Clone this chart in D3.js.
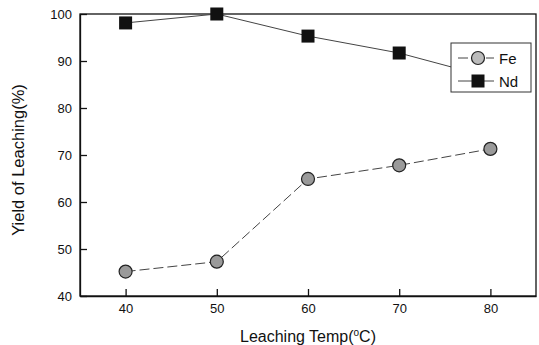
<!DOCTYPE html>
<html>
<head>
<meta charset="utf-8">
<script src="https://cdn.jsdelivr.net/npm/d3@7"></script>
<style>
  body { margin: 0; background: #fff; }
  text { font-family: "Liberation Sans", Arial, sans-serif; fill: #111; }
</style>
</head>
<body>
<div id="chart"></div>
<script>
const temps = [40, 50, 60, 70, 80];
const feYield = [45.2, 47.3, 64.9, 67.8, 71.3];
const ndYield = [98.1, 100, 95.3, 91.7, 86.5];
const xTicks = [40, 50, 60, 70, 80];
const yTicks = [40, 50, 60, 70, 80, 90, 100];

const W = 539;
const H = 345;
const margin = { left: 80, top: 14, right: 3, bottom: 49 };

const svg = d3
  .select("#chart")
  .append("svg")
  .attr("width", W)
  .attr("height", H);

const x = d3.scaleLinear().domain([35, 85]).range([margin.left, W - margin.right]);
const y = d3.scaleLinear().domain([40, 100]).range([H - margin.bottom, margin.top]);

// frame
svg
  .append("rect")
  .attr("x", x(35))
  .attr("y", y(100))
  .attr("width", x(85) - x(35))
  .attr("height", y(40) - y(100))
  .attr("fill", "none")
  .attr("stroke", "#111")
  .attr("stroke-width", 1.3);

// axes (ticks inward)
const xAxis = svg
  .append("g")
  .attr("transform", "translate(0," + y(40) + ")")
  .call(d3.axisBottom(x).tickValues(xTicks).tickSizeInner(-7).tickSizeOuter(0).tickPadding(8));
const yAxis = svg
  .append("g")
  .attr("transform", "translate(" + x(35) + ",0)")
  .call(d3.axisLeft(y).tickValues(yTicks).tickSizeInner(-7).tickSizeOuter(0).tickPadding(8));

[xAxis, yAxis].forEach(function(g) {
  g.select(".domain").attr("stroke", "#111").attr("stroke-width", 1.3);
  g.selectAll(".tick line").attr("stroke", "#111").attr("stroke-width", 1.3);
  g.selectAll(".tick text").attr("font-size", "13px").attr("fill", "#111");
});

// lines
const line = d3
  .line()
  .x(function(d, i) { return x(temps[i]); })
  .y(function(d) { return y(d); });

svg
  .append("path")
  .datum(ndYield)
  .attr("d", line)
  .attr("fill", "none")
  .attr("stroke", "#444")
  .attr("stroke-width", 1);

svg
  .append("path")
  .datum(feYield)
  .attr("d", line)
  .attr("fill", "none")
  .attr("stroke", "#444")
  .attr("stroke-width", 1)
  .attr("stroke-dasharray", "10,4");

// markers
svg
  .selectAll("rect.nd")
  .data(ndYield)
  .enter()
  .append("rect")
  .attr("class", "nd")
  .attr("x", function(d, i) { return x(temps[i]) - 6.5; })
  .attr("y", function(d) { return y(d) - 6.5; })
  .attr("width", 13)
  .attr("height", 13)
  .attr("fill", "#111");

svg
  .selectAll("circle.fe")
  .data(feYield)
  .enter()
  .append("circle")
  .attr("class", "fe")
  .attr("cx", function(d, i) { return x(temps[i]); })
  .attr("cy", function(d) { return y(d); })
  .attr("r", 6.5)
  .attr("fill", "#9a9a9a")
  .attr("stroke", "#222")
  .attr("stroke-width", 1.2);

// legend
const lg = svg.append("g").attr("transform", "translate(451,43)");
lg.append("rect")
  .attr("width", 80)
  .attr("height", 49)
  .attr("fill", "#fff")
  .attr("stroke", "#333")
  .attr("stroke-width", 1);

lg.append("line").attr("x1", 7).attr("x2", 43).attr("y1", 15).attr("y2", 15)
  .attr("stroke", "#444").attr("stroke-dasharray", "10,4");
lg.append("circle").attr("cx", 27).attr("cy", 15).attr("r", 6.5)
  .attr("fill", "#bbb").attr("stroke", "#222").attr("stroke-width", 1.2);
lg.append("text").attr("x", 48).attr("y", 20.5).attr("font-size", "15px").text("Fe");

lg.append("line").attr("x1", 7).attr("x2", 43).attr("y1", 38).attr("y2", 38)
  .attr("stroke", "#444");
lg.append("rect").attr("x", 20.5).attr("y", 31.5).attr("width", 13).attr("height", 13)
  .attr("fill", "#111");
lg.append("text").attr("x", 48).attr("y", 43.5).attr("font-size", "15px").text("Nd");

// axis titles
const xt = svg
  .append("text")
  .attr("x", (x(35) + x(85)) / 2)
  .attr("y", 342)
  .attr("text-anchor", "middle")
  .attr("font-size", "16px");
xt.append("tspan").text("Leaching Temp(");
xt.append("tspan").attr("dy", -6).attr("font-size", "10px").text("o");
xt.append("tspan").attr("dy", 6).text("C)");

svg
  .append("text")
  .attr("transform", "translate(24,160) rotate(-90)")
  .attr("text-anchor", "middle")
  .attr("font-size", "16.5px")
  .text("Yield of Leaching(%)");
</script>
</body>
</html>
